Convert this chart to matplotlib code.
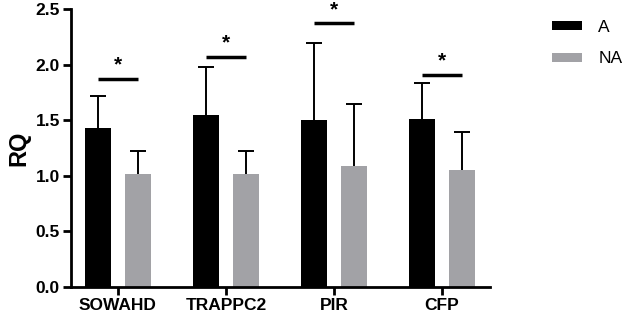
import matplotlib
matplotlib.use("Agg")
import matplotlib.pyplot as plt
import numpy as np

plt.rcParams['font.family'] = ['Liberation Sans', 'DejaVu Sans']

categories = ["SOWAHD", "TRAPPC2", "PIR", "CFP"]
a_vals = [1.43, 1.55, 1.50, 1.51]
a_err = [0.29, 0.43, 0.69, 0.32]
na_vals = [1.02, 1.02, 1.09, 1.05]
na_err = [0.20, 0.20, 0.56, 0.34]
sig_y = [1.87, 2.07, 2.37, 1.91]
sig_labels = ["*", "*", "*", "*"]

fig = plt.figure(figsize=(6.24, 3.2), dpi=100)
ax = fig.add_axes([0.1138, 0.103, 0.672, 0.869])

x = np.arange(len(categories))
off = 0.185
w = 0.24
black = "#000000"
gray = "#a2a2a6"

a_vals_arr = np.array(a_vals)
na_vals_arr = np.array(na_vals)
a_top = a_vals_arr + np.array(a_err)
na_top = na_vals_arr + np.array(na_err)

ax.bar(x - off, a_vals, w, color=black, label="A", zorder=2)
ax.bar(x + off, na_vals, w, color=gray, label="NA", zorder=2)
# error stems (upper only) and caps
ax.vlines(x - off, a_vals_arr, a_top, color=black, lw=1.4, zorder=1)
ax.vlines(x + off, na_vals_arr, na_top, color=black, lw=1.4, zorder=1)
ax.plot(x - off, a_top, ls='none', marker='_', ms=12, mew=1.4, color=black, zorder=1)
ax.plot(x + off, na_top, ls='none', marker='_', ms=12, mew=1.4, color=black, zorder=1)

for xi, yi, s in zip(x, sig_y, sig_labels):
    ax.plot([xi - off, xi + off], [yi, yi], color=black, lw=2.5, solid_capstyle='butt')
    ax.text(xi, yi + 0.04, s, ha='center', va='bottom', fontsize=15, fontweight='bold')

ax.set_xlim(-0.435, 3.45)
ax.set_ylim(0, 2.5)
ax.set_yticks([0.0, 0.5, 1.0, 1.5, 2.0, 2.5])
ax.set_yticklabels(["0.0", "0.5", "1.0", "1.5", "2.0", "2.5"])
ax.set_xticks(x)
ax.set_xticklabels(categories)
for lab in ax.get_xticklabels() + ax.get_yticklabels():
    lab.set_fontweight('bold')
    lab.set_fontsize(12.5)
ax.set_ylabel("RQ", fontsize=17, fontweight='bold', labelpad=4)

for sp in ['top', 'right']:
    ax.spines[sp].set_visible(False)
for sp in ['left', 'bottom']:
    ax.spines[sp].set_linewidth(2)
ax.tick_params(axis='both', width=2, length=6, direction='out', pad=2)

leg = ax.legend(loc='upper left', bbox_to_anchor=(1.146, 0.962), frameon=False,
                fontsize=12.5, handlelength=1.75, handleheight=0.45, labelspacing=0.97,
                handletextpad=0.95, borderaxespad=0.0, borderpad=0.0)

fig.savefig("out.png", dpi=100)
